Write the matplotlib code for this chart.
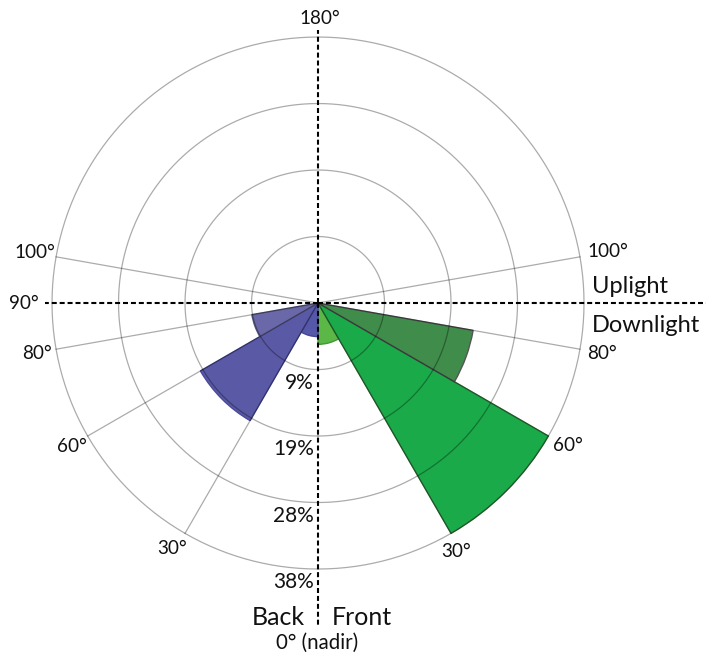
import numpy as np
import matplotlib
matplotlib.use("Agg")
import matplotlib.pyplot as plt

plt.rcParams['font.family'] = ['Lato', 'DejaVu Sans']

# Angular zones measured from nadir (degrees)
zone_edges = [0, 30, 60, 80]
# Share of luminous flux per zone (%)
front_pct = [5.9, 38.0, 22.5]
back_pct = [4.8, 19.4, 9.6]
front_colors = ['#5cb846', '#1aaa4a', '#3f8c4b']
front_edges = ['#3f9a35', '#2f7d3a', '#555555']
back_colors = ['#5557a8', '#5a59a6', '#6a68a8']
back_edges = ['#46469a', '#4a4a9e', '#5a5a88']

ring_values = [9.5, 19.0, 28.5, 38.0]
ring_labels = ['9%', '19%', '28%', '38%']
spoke_angles = [30, 60, 80, 100]
rmax = 38.0

fig = plt.figure(figsize=(7.06, 6.53), dpi=100)
ax = fig.add_axes([0.0737, 0.1286, 0.7535, 0.8147], projection='polar')
ax.set_theta_zero_location('S')
ax.set_theta_direction(1)
ax.set_ylim(0, rmax)
ax.set_xticks([])
ax.set_yticks([])
ax.grid(False)
ax.spines['polar'].set_visible(False)
ax.patch.set_alpha(0)

# Wedges: front on the right, back on the left
for i in range(3):
    lo, hi = zone_edges[i], zone_edges[i + 1]
    mid = np.deg2rad((lo + hi) / 2)
    w = np.deg2rad(hi - lo)
    ax.bar(mid, front_pct[i], width=w, bottom=0, color=front_colors[i],
           edgecolor=front_edges[i], linewidth=1.0, zorder=2, clip_on=False)
    ax.bar(-mid, back_pct[i], width=w, bottom=0, color=back_colors[i],
           edgecolor=back_edges[i], linewidth=1.0, zorder=2)

grid_kw = dict(color='black', alpha=0.33, linewidth=0.9, zorder=3,
               clip_on=False)
t = np.linspace(0, 2 * np.pi, 361)
for rv in ring_values:
    ax.plot(t, np.full_like(t, rv), **grid_kw)
for a in spoke_angles:
    for s in (1, -1):
        ax.plot([s * np.deg2rad(a)] * 2, [0, rmax], **grid_kw)

# Dashed reference axes (nadir/zenith and horizon)
dash_kw = dict(color='black', linewidth=1.5, linestyle=(0, (2.4, 1.4)),
               clip_on=False, zorder=4)
ax.plot([np.pi, np.pi], [0, 39.0], **dash_kw)
ax.plot([0, 0], [0, 46.3], **dash_kw)
ax.plot([np.pi / 2, np.pi / 2], [0, 55.5], **dash_kw)
ax.plot([-np.pi / 2, -np.pi / 2], [0, 39.0], **dash_kw)

fs = 13.6
def lab(theta_deg, r, text, dx, dy, ha='center', va='center', size=fs):
    ax.annotate(text, xy=(np.deg2rad(theta_deg), r), xytext=(dx, dy),
                textcoords='offset pixels', ha=ha, va=va, fontsize=size,
                annotation_clip=False, color='#111111')

# Angle labels
lab(100, rmax, '100°', 7, 5, ha='left')
lab(80, rmax, '80°', 7, -4, ha='left')
lab(60, rmax, '60°', 5, -9, ha='left')
lab(30, rmax, '30°', 5, -18)
lab(-100, rmax, '100°', -1, 4, ha='right')
lab(-80, rmax, '80°', -4, -4, ha='right')
lab(-60, rmax, '60°', -1, -10, ha='right')
lab(-30, rmax, '30°', -13, -15)
lab(-90, 39.0, '90°', -6, 0, ha='right')
lab(180, rmax, '180°', 2, 19)

# Radial labels
for rv, tx in zip(ring_values, ring_labels):
    lab(0, rv, tx, -4, -13, ha='right', size=15)

# Region labels
lab(0, rmax, 'Back', -13, -48, ha='right', size=18)
lab(0, rmax, 'Front', 14, -48, ha='left', size=18)
lab(0, rmax, '0° (nadir)', -1, -74, size=14.8)
lab(90, rmax, 'Uplight', 8, 10, ha='left', va='baseline', size=17)
lab(90, rmax, 'Downlight', 8, -29, ha='left', va='baseline', size=17)

fig.savefig('out.png', dpi=100)
